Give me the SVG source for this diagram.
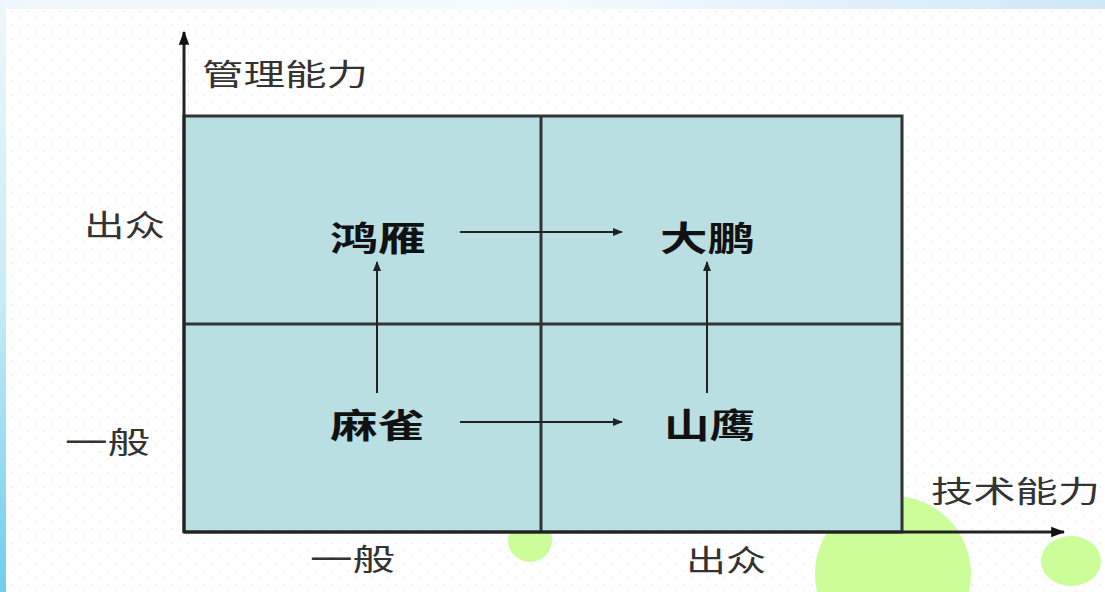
<svg xmlns="http://www.w3.org/2000/svg" width="1105" height="592" viewBox="0 0 1105 592">
<defs>
<linearGradient id="gTop" x1="0" y1="0" x2="1" y2="0">
<stop offset="0" stop-color="#eef7fb"/>
<stop offset="0.5" stop-color="#f4fbfe"/>
<stop offset="1" stop-color="#cfe7f7"/>
</linearGradient>
<linearGradient id="gLeft" x1="0" y1="0" x2="0" y2="1">
<stop offset="0" stop-color="#eef7fb"/>
<stop offset="0.5" stop-color="#c6ecf8"/>
<stop offset="1" stop-color="#6fcdee"/>
</linearGradient>
<pattern id="dots" width="16" height="14" patternUnits="userSpaceOnUse">
<circle cx="4" cy="4" r="0.9" fill="#efece0"/>
<circle cx="12" cy="11" r="0.9" fill="#efece0"/>
</pattern>
<marker id="ah" viewBox="0 0 10 10" refX="9" refY="5" markerWidth="10" markerHeight="10" markerUnits="userSpaceOnUse" orient="auto">
<path d="M0,1 L10,5 L0,9 Z" fill="#222"/>
</marker>
<marker id="axh" viewBox="0 0 12 12" refX="11" refY="6" markerWidth="14" markerHeight="14" markerUnits="userSpaceOnUse" orient="auto">
<path d="M0,1.5 L12,6 L0,10.5 Z" fill="#111"/>
</marker>
<style>
.ax{font-family:"Noto Sans CJK SC","Noto Sans",sans-serif;font-size:30px;fill:#333}
.nd{font-family:"Noto Sans CJK SC","Noto Sans",sans-serif;font-size:34px;font-weight:700;fill:#111}
.grid{fill:none;stroke:#333;stroke-width:3}
.conn{stroke:#222;stroke-width:2;fill:none}
.axis{stroke:#222;stroke-width:3;fill:none}
.green{fill:#cbfd99}
</style>
</defs>
<rect x="0" y="0" width="1105" height="592" fill="#ffffff"/>
<rect x="6" y="9" width="1099" height="583" fill="url(#dots)"/>
<rect x="0" y="0" width="1105" height="9" fill="url(#gTop)"/>
<rect x="0" y="0" width="6" height="592" fill="url(#gLeft)"/>
<g id="decor">
<circle class="green" cx="530" cy="540" r="22"/>
<circle class="green" cx="893" cy="574" r="78"/>
<ellipse class="green" cx="1071" cy="561" rx="30" ry="25"/>
</g>
<g id="quadrants">
<rect x="184" y="116" width="718" height="416" fill="#b9dfe2"/>
<rect class="grid" x="184" y="116" width="718" height="416"/>
<line class="grid" x1="541" y1="116" x2="541" y2="532"/>
<line class="grid" x1="184" y1="324" x2="902" y2="324"/>
</g>
<g id="axes">
<line class="axis" x1="184" y1="532" x2="184" y2="32" marker-end="url(#axh)"/>
<line class="axis" x1="184" y1="532" x2="1064" y2="532" marker-end="url(#axh)"/>
<text class="ax" x="202" y="85" textLength="166" lengthAdjust="spacingAndGlyphs">管理能力</text>
<text class="ax" x="931" y="502" textLength="169" lengthAdjust="spacingAndGlyphs">技术能力</text>
<text class="ax" x="84" y="236" textLength="81" lengthAdjust="spacingAndGlyphs">出众</text>
<text class="ax" x="65" y="453" textLength="85" lengthAdjust="spacingAndGlyphs">一般</text>
<text class="ax" x="310" y="570" textLength="85" lengthAdjust="spacingAndGlyphs">一般</text>
<text class="ax" x="686" y="571" textLength="80" lengthAdjust="spacingAndGlyphs">出众</text>
</g>
<g id="node-hongyan"><text class="nd" x="330" y="251" textLength="96" lengthAdjust="spacingAndGlyphs">鸿雁</text></g>
<g id="node-dapeng"><text class="nd" x="660" y="251" textLength="95" lengthAdjust="spacingAndGlyphs">大鹏</text></g>
<g id="node-maque"><text class="nd" x="330" y="438" textLength="95" lengthAdjust="spacingAndGlyphs">麻雀</text></g>
<g id="node-shanying"><text class="nd" x="664" y="438" textLength="91" lengthAdjust="spacingAndGlyphs">山鹰</text></g>
<g id="connectors">
<line class="conn" x1="460" y1="232" x2="622" y2="232" marker-end="url(#ah)"/>
<line class="conn" x1="460" y1="422" x2="622" y2="422" marker-end="url(#ah)"/>
<line class="conn" x1="377" y1="393" x2="377" y2="262" marker-end="url(#ah)"/>
<line class="conn" x1="707" y1="393" x2="707" y2="262" marker-end="url(#ah)"/>
</g>
</svg>
